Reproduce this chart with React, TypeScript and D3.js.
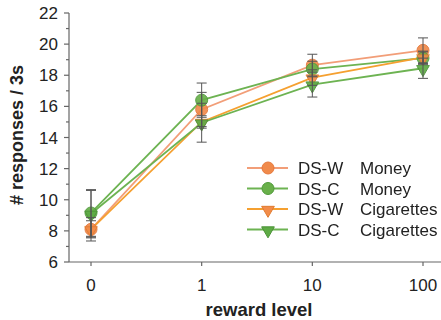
import React, { useEffect, useRef } from 'react'
import * as d3 from 'd3'

const levels = ['0', '1', '10', '100']
const yTicks = [6, 8, 10, 12, 14, 16, 18, 20, 22]
const yMinor = [7, 9, 11, 13, 15, 17, 19, 21]

const dswMoney = [8.1, 15.8, 18.65, 19.6]
const dscMoney = [9.15, 16.4, 18.4, 19.1]
const dswCig = [8.1, 15.0, 17.85, 19.15]
const dscCig = [9.1, 14.95, 17.4, 18.45]

const dswMoneyErr = [0.55, 1.1, 0.7, 0.8]
const dscMoneyErr = [1.5, 1.1, 0.5, 0.4]
const dswCigErr = [0.75, 0.4, 0.5, 0.4]
const dscCigErr = [1.5, 1.25, 0.8, 0.65]

const groups = ['DS-W', 'DS-C', 'DS-W', 'DS-C']
const rewards = ['Money', 'Money', 'Cigarettes', 'Cigarettes']

const W = 441
const H = 320
const FONT = 'Arial, "Liberation Sans", sans-serif'

const App = () => {
  const svgRef = useRef<SVGSVGElement>(null)

  useEffect(() => {
    const svg = d3.select(svgRef.current)
    svg.selectAll('*').remove()

    const x = d3.scalePoint<string>().domain(levels).range([91, 423])
    const y = d3.scaleLinear().domain([6, 22]).range([262, 13])

    const series = [
      { vals: dswMoney, err: dswMoneyErr, line: '#f29e78', fill: '#f08a4b', stroke: '#e5783c', shape: 'circle' },
      { vals: dscMoney, err: dscMoneyErr, line: '#6db352', fill: '#69b04a', stroke: '#4f9a3a', shape: 'circle' },
      { vals: dswCig, err: dswCigErr, line: '#f5a030', fill: '#f28c4a', stroke: '#e07a2e', shape: 'tri' },
      { vals: dscCig, err: dscCigErr, line: '#6db352', fill: '#5eab45', stroke: '#4a9236', shape: 'tri' },
    ]

    // axes
    const ax = svg.append('g').attr('stroke', '#666').attr('stroke-width', 1.2)
    ax.append('line').attr('x1', 69).attr('x2', 69).attr('y1', y(22)).attr('y2', y(6))
    ax.append('line').attr('x1', 69).attr('x2', W).attr('y1', y(6)).attr('y2', y(6))
    ax.selectAll('.maj').data(yTicks).join('line')
      .attr('x1', 64).attr('x2', 69).attr('y1', (d) => y(d)).attr('y2', (d) => y(d))
    ax.selectAll('.min').data(yMinor).join('line')
      .attr('x1', 66).attr('x2', 69).attr('y1', (d) => y(d)).attr('y2', (d) => y(d))
    ax.selectAll('.xt').data(levels).join('line')
      .attr('x1', (d) => x(d)!).attr('x2', (d) => x(d)!).attr('y1', y(6)).attr('y2', y(6) + 4)

    svg.append('g').selectAll('text').data(yTicks).join('text')
      .attr('x', 58).attr('y', (d) => y(d)).attr('dy', '0.36em')
      .attr('text-anchor', 'end').attr('font-family', FONT).attr('font-size', 17).attr('fill', '#222')
      .text((d) => d)
    svg.append('g').selectAll('text').data(levels).join('text')
      .attr('x', (d) => x(d)!).attr('y', 291)
      .attr('text-anchor', 'middle').attr('font-family', FONT).attr('font-size', 17).attr('fill', '#222')
      .text((d) => d)

    svg.append('text')
      .attr('transform', 'translate(23,135) rotate(-90)')
      .attr('text-anchor', 'middle').attr('font-family', FONT).attr('font-weight', 'bold')
      .attr('font-size', 18).attr('fill', '#222').text('# responses / 3s')
    svg.append('text')
      .attr('x', 259).attr('y', 316)
      .attr('text-anchor', 'middle').attr('font-family', FONT).attr('font-weight', 'bold')
      .attr('font-size', 18.5).attr('fill', '#222').text('reward level')

    const line = d3.line<number>().x((d, i) => x(levels[i])!).y((d) => y(d))
    const tri = d3.symbol().type(d3.symbolTriangle).size(70)

    const marker = (g: any, s: any, cx: number, cy: number) => {
      if (s.shape === 'circle') {
        g.append('circle').attr('cx', cx).attr('cy', cy).attr('r', 6)
          .attr('fill', s.fill).attr('stroke', s.stroke).attr('stroke-width', 1)
      } else {
        g.append('path').attr('d', tri()).attr('transform', `translate(${cx},${cy + 1}) rotate(180)`)
          .attr('fill', s.fill).attr('stroke', s.stroke).attr('stroke-width', 1)
      }
    }

    series.forEach((s) => {
      svg.append('path').datum(s.vals).attr('d', line)
        .attr('fill', 'none').attr('stroke', s.line).attr('stroke-width', 1.8)
    })
    series.forEach((s) => {
      const g = svg.append('g').attr('opacity', 0.92)
      s.vals.forEach((v, i) => marker(g, s, x(levels[i])!, y(v)))
    })

    // error bars
    const eb = svg.append('g').attr('stroke', '#555').attr('stroke-width', 1)
    series.forEach((s) => {
      s.vals.forEach((v, i) => {
        const cx = x(levels[i])!
        const lo = y(v - s.err[i])
        const hi = y(v + s.err[i])
        eb.append('line').attr('x1', cx).attr('x2', cx).attr('y1', lo).attr('y2', hi)
        eb.append('line').attr('x1', cx - 5).attr('x2', cx + 5).attr('y1', lo).attr('y2', lo)
        eb.append('line').attr('x1', cx - 5).attr('x2', cx + 5).attr('y1', hi).attr('y2', hi)
      })
    })

    // legend
    const rowY = d3.scaleLinear().domain([0, 3]).range([168, 229.5])
    series.forEach((s, i) => {
      const cy = rowY(i)
      const g = svg.append('g')
      g.append('line').attr('x1', 247).attr('x2', 288).attr('y1', cy).attr('y2', cy)
        .attr('stroke', s.line).attr('stroke-width', 1.8)
      marker(g, s, 268, cy)
      g.append('text').attr('x', 298).attr('y', cy + 6)
        .attr('font-family', FONT).attr('font-size', 17).attr('fill', '#222').text(groups[i])
      g.append('text').attr('x', 360).attr('y', cy + 6)
        .attr('font-family', FONT).attr('font-size', 17).attr('fill', '#222').text(rewards[i])
    })
  }, [])

  return (
    <svg
      ref={svgRef}
      width={W}
      height={H}
      style={{ position: 'absolute', left: 0, top: 0, background: '#fff' }}
    />
  )
}

export default App
